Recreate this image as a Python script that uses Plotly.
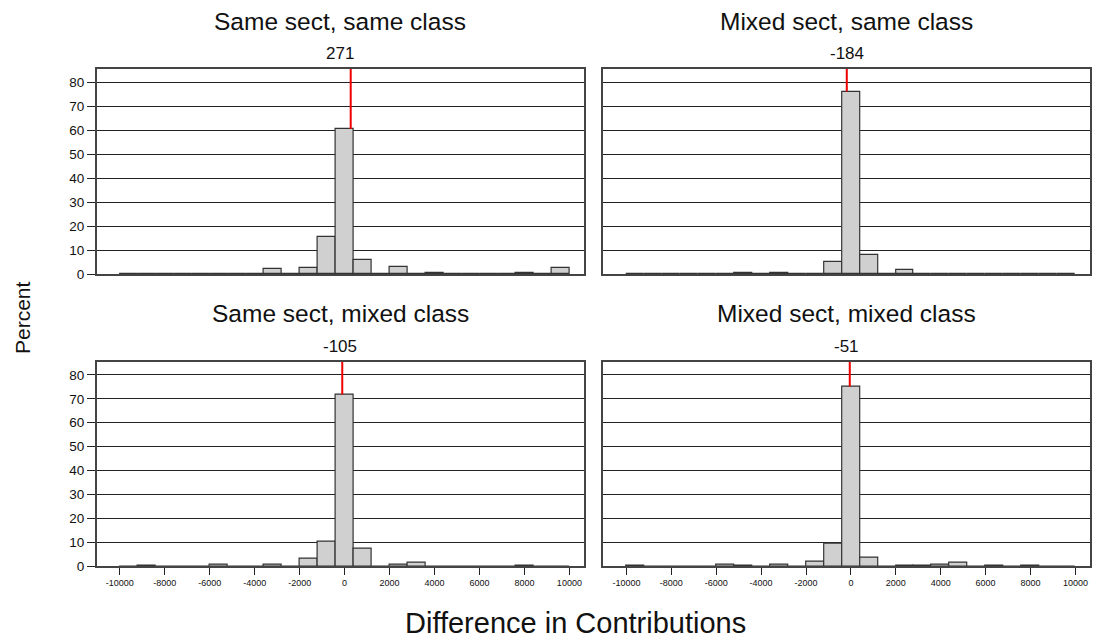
import plotly.graph_objects as go

# Bin centres (width 800) for the difference in contributions
bin_centers = [-9600, -8800, -8000, -7200, -6400, -5600, -4800, -4000, -3200, -2400,
               -1600, -800, 0, 800, 1600, 2400, 3200, 4000, 4800, 5600,
               6400, 7200, 8000, 8800, 9600]
bin_width = 800

panel_titles = ["Same sect, same class", "Mixed sect, same class",
                "Same sect, mixed class", "Mixed sect, mixed class"]
panel_means = [271, -184, -105, -51]

pct_same_same = [0, 0.3, 0, 0, 0, 0.2, 0, 0.2, 2.1, 0, 2.6, 15.6, 60.5, 5.9, 0,
                 3.2, 0.2, 0.7, 0.2, 0, 0.2, 0, 0.7, 0.2, 2.5]
pct_mixed_same = [0.2, 0.2, 0.2, 0.2, 0, 0.2, 0.5, 0, 0.5, 0, 0.2, 5.3, 76.1, 8.0, 0,
                  1.9, 0.3, 0, 0.3, 0, 0, 0.3, 0, 0, 0]
pct_same_mixed = [0, 0.3, 0, 0, 0, 0.7, 0, 0, 0.6, 0, 3.2, 10.3, 71.8, 7.5, 0,
                  0.6, 1.3, 0, 0, 0, 0, 0, 0.3, 0, 0]
pct_mixed_mixed = [0.2, 0, 0, 0, 0, 0.6, 0.3, 0, 0.6, 0, 1.9, 9.6, 75.1, 3.6, 0,
                   0.2, 0.2, 0.7, 1.4, 0, 0.3, 0, 0.3, 0, 0]

series = [pct_same_same, pct_mixed_same, pct_same_mixed, pct_mixed_mixed]

x_ticks = [-10000, -8000, -6000, -4000, -2000, 0, 2000, 4000, 6000, 8000, 10000]
x_tick_labels = ["-10000", "-8000", "-6000", "-4000", "-2000", "0",
                 "2000", "4000", "6000", "8000", "10000"]
y_ticks = [0, 10, 20, 30, 40, 50, 60, 70, 80]

W, H = 1094, 640
FONT = "Liberation Sans, Arial, Helvetica, sans-serif"

# pixel layout of panels (left, right, top, bottom)
cols = [(96.7, 584.0), (603.3, 1090.0)]
rows = [(69.0, 274.3), (361.7, 566.3)]

XR = [-11030, 10650]
YR = [0, 85.5]

fig = go.Figure()
annotations = []
shapes = []

for i in range(4):
    r, c = divmod(i, 2)
    xl, xr = cols[c]
    yt, yb = rows[r]
    ax = "" if i == 0 else str(i + 1)
    xname, yname = "xaxis" + ax, "yaxis" + ax
    fig.add_trace(go.Bar(
        x=bin_centers, y=series[i], width=bin_width,
        marker=dict(color="#d0d0d0", line=dict(color="#333333", width=1.2)),
        xaxis="x" + ax, yaxis="y" + ax, showlegend=False, hoverinfo="x+y",
    ))
    fig.layout[xname] = dict(
        domain=[xl / W, xr / W], range=XR, anchor="y" + ax, automargin=False,
        showgrid=False, zeroline=False, showline=True, linecolor="#444444",
        linewidth=1.5, mirror=True,
        tickmode="array", tickvals=x_ticks if r == 1 else [],
        ticktext=x_tick_labels if r == 1 else [],
        ticks="outside" if r == 1 else "", ticklen=7, tickcolor="#222222",
        tickfont=dict(family=FONT, size=9, color="#111111"),
        showticklabels=(r == 1),
    )
    fig.layout[yname] = dict(
        domain=[1 - yb / H, 1 - yt / H], range=YR, anchor="x" + ax, automargin=False,
        showgrid=True, gridcolor="#222222", gridwidth=1, zeroline=False,
        showline=True, linecolor="#444444", linewidth=1.5, mirror=True,
        tickmode="array", tickvals=y_ticks,
        ticks="outside" if c == 0 else "", ticklen=8, tickcolor="#222222",
        tickfont=dict(family=FONT, size=13.5, color="#111111"),
        showticklabels=(c == 0),
    )
    # red mean line from the top of the bar containing the mean up to the frame
    m = panel_means[i]
    k = min(range(len(bin_centers)), key=lambda j: abs(bin_centers[j] - m))
    shapes.append(dict(
        type="line", xref="x" + ax, yref="y" + ax,
        x0=m, x1=m, y0=series[i][k], y1=YR[1],
        line=dict(color="#ee0000", width=2), layer="above",
    ))
    cx = (xl + xr) / 2 / W
    annotations.append(dict(
        text=panel_titles[i], x=cx, y=1 - (yt - 48) / H, xref="paper", yref="paper",
        showarrow=False, xanchor="center", yanchor="middle",
        font=dict(family=FONT, size=24.5, color="#111111"),
    ))
    annotations.append(dict(
        text=str(m), x=cx, y=1 - (yt - 15) / H, xref="paper", yref="paper",
        showarrow=False, xanchor="center", yanchor="middle",
        font=dict(family=FONT, size=17, color="#111111"),
    ))

annotations.append(dict(
    text="Percent", x=22 / W, y=1 - 318 / H, xref="paper", yref="paper",
    showarrow=False, textangle=-90, xanchor="center", yanchor="middle",
    font=dict(family=FONT, size=21, color="#111111"),
))
annotations.append(dict(
    text="Difference in Contributions", x=575 / W, y=1 - 623 / H, xref="paper", yref="paper",
    showarrow=False, xanchor="center", yanchor="middle", borderpad=0,
    font=dict(family=FONT, size=29, color="#111111"),
))

fig.update_layout(
    template="none",
    width=W, height=H, margin=dict(l=0, r=0, t=0, b=0, pad=0, autoexpand=False),
    paper_bgcolor="white", plot_bgcolor="white", showlegend=False,
    bargap=0, annotations=annotations, shapes=shapes,
)

fig.write_html("out.html")
